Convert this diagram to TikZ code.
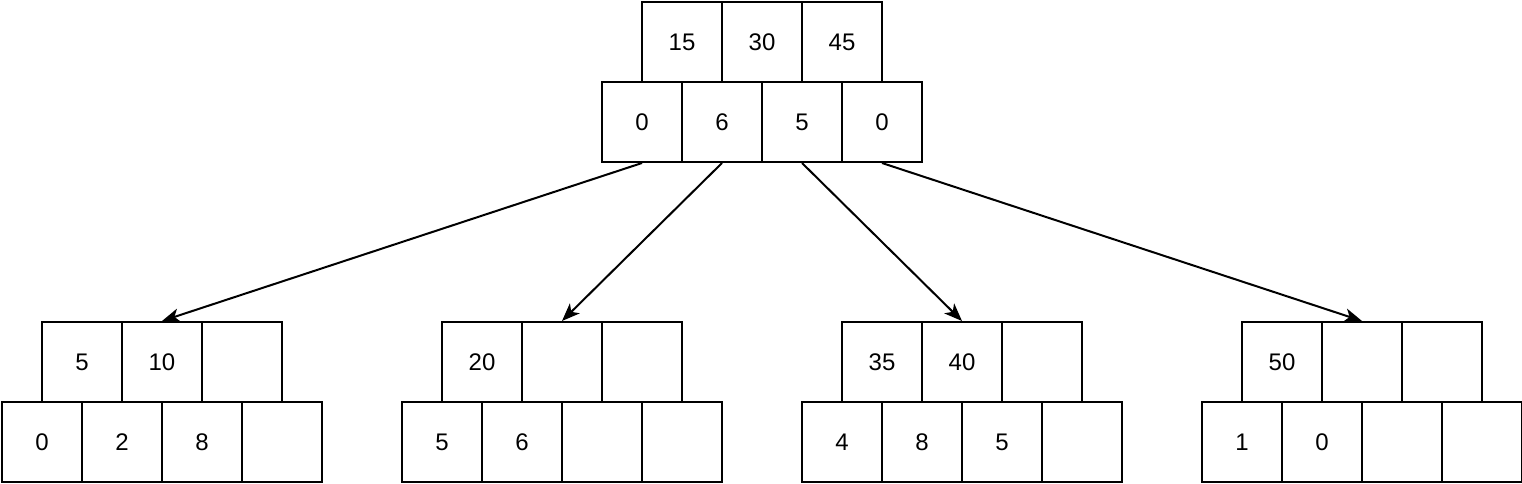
\documentclass[tikz,border=0pt]{standalone}
\usepackage{fontspec}
\setmainfont{Liberation Sans}
\usetikzlibrary{arrows.meta}

\tikzset{cell/.style={draw,line width=2pt,minimum size=80pt,inner sep=0pt,
    anchor=north west,font=\fontsize{24}{28}\selectfont}}

\begin{document}
\begin{tikzpicture}[x=1pt,y=-1pt]
  \useasboundingbox (0,0) rectangle (1522,484);
  % one B-tree node: name, left x, top y, keys, pointers
  \newcommand{\bnode}[5]{%
    \foreach \k [count=\i from 0] in {#4}
      \node[cell] (#1k\i) at (#2+40+80*\i,#3) {\k};
    \foreach \p [count=\i from 0] in {#5}
      \node[cell] (#1p\i) at (#2+80*\i,#3+80) {\p};}
  % root
  \bnode{r}{601}{1}{15,30,45}{0,6,5,0}
  % leaves
  \bnode{a}{1}{321}{5,10,{}}{0,2,8,{}}
  \bnode{b}{401}{321}{20,{},{}}{5,6,{},{}}
  \bnode{c}{801}{321}{35,40,{}}{4,8,5,{}}
  \bnode{d}{1201}{321}{50,{},{}}{1,0,{},{}}
  % pointers
  \foreach \i/\n in {0/a,1/b,2/c,3/d}
    \draw[line width=2pt,-{Stealth[length=18pt,width=14pt,inset=5pt]}]
      (r\string p\i.south) -- (\n k1.north);
\end{tikzpicture}
\end{document}
